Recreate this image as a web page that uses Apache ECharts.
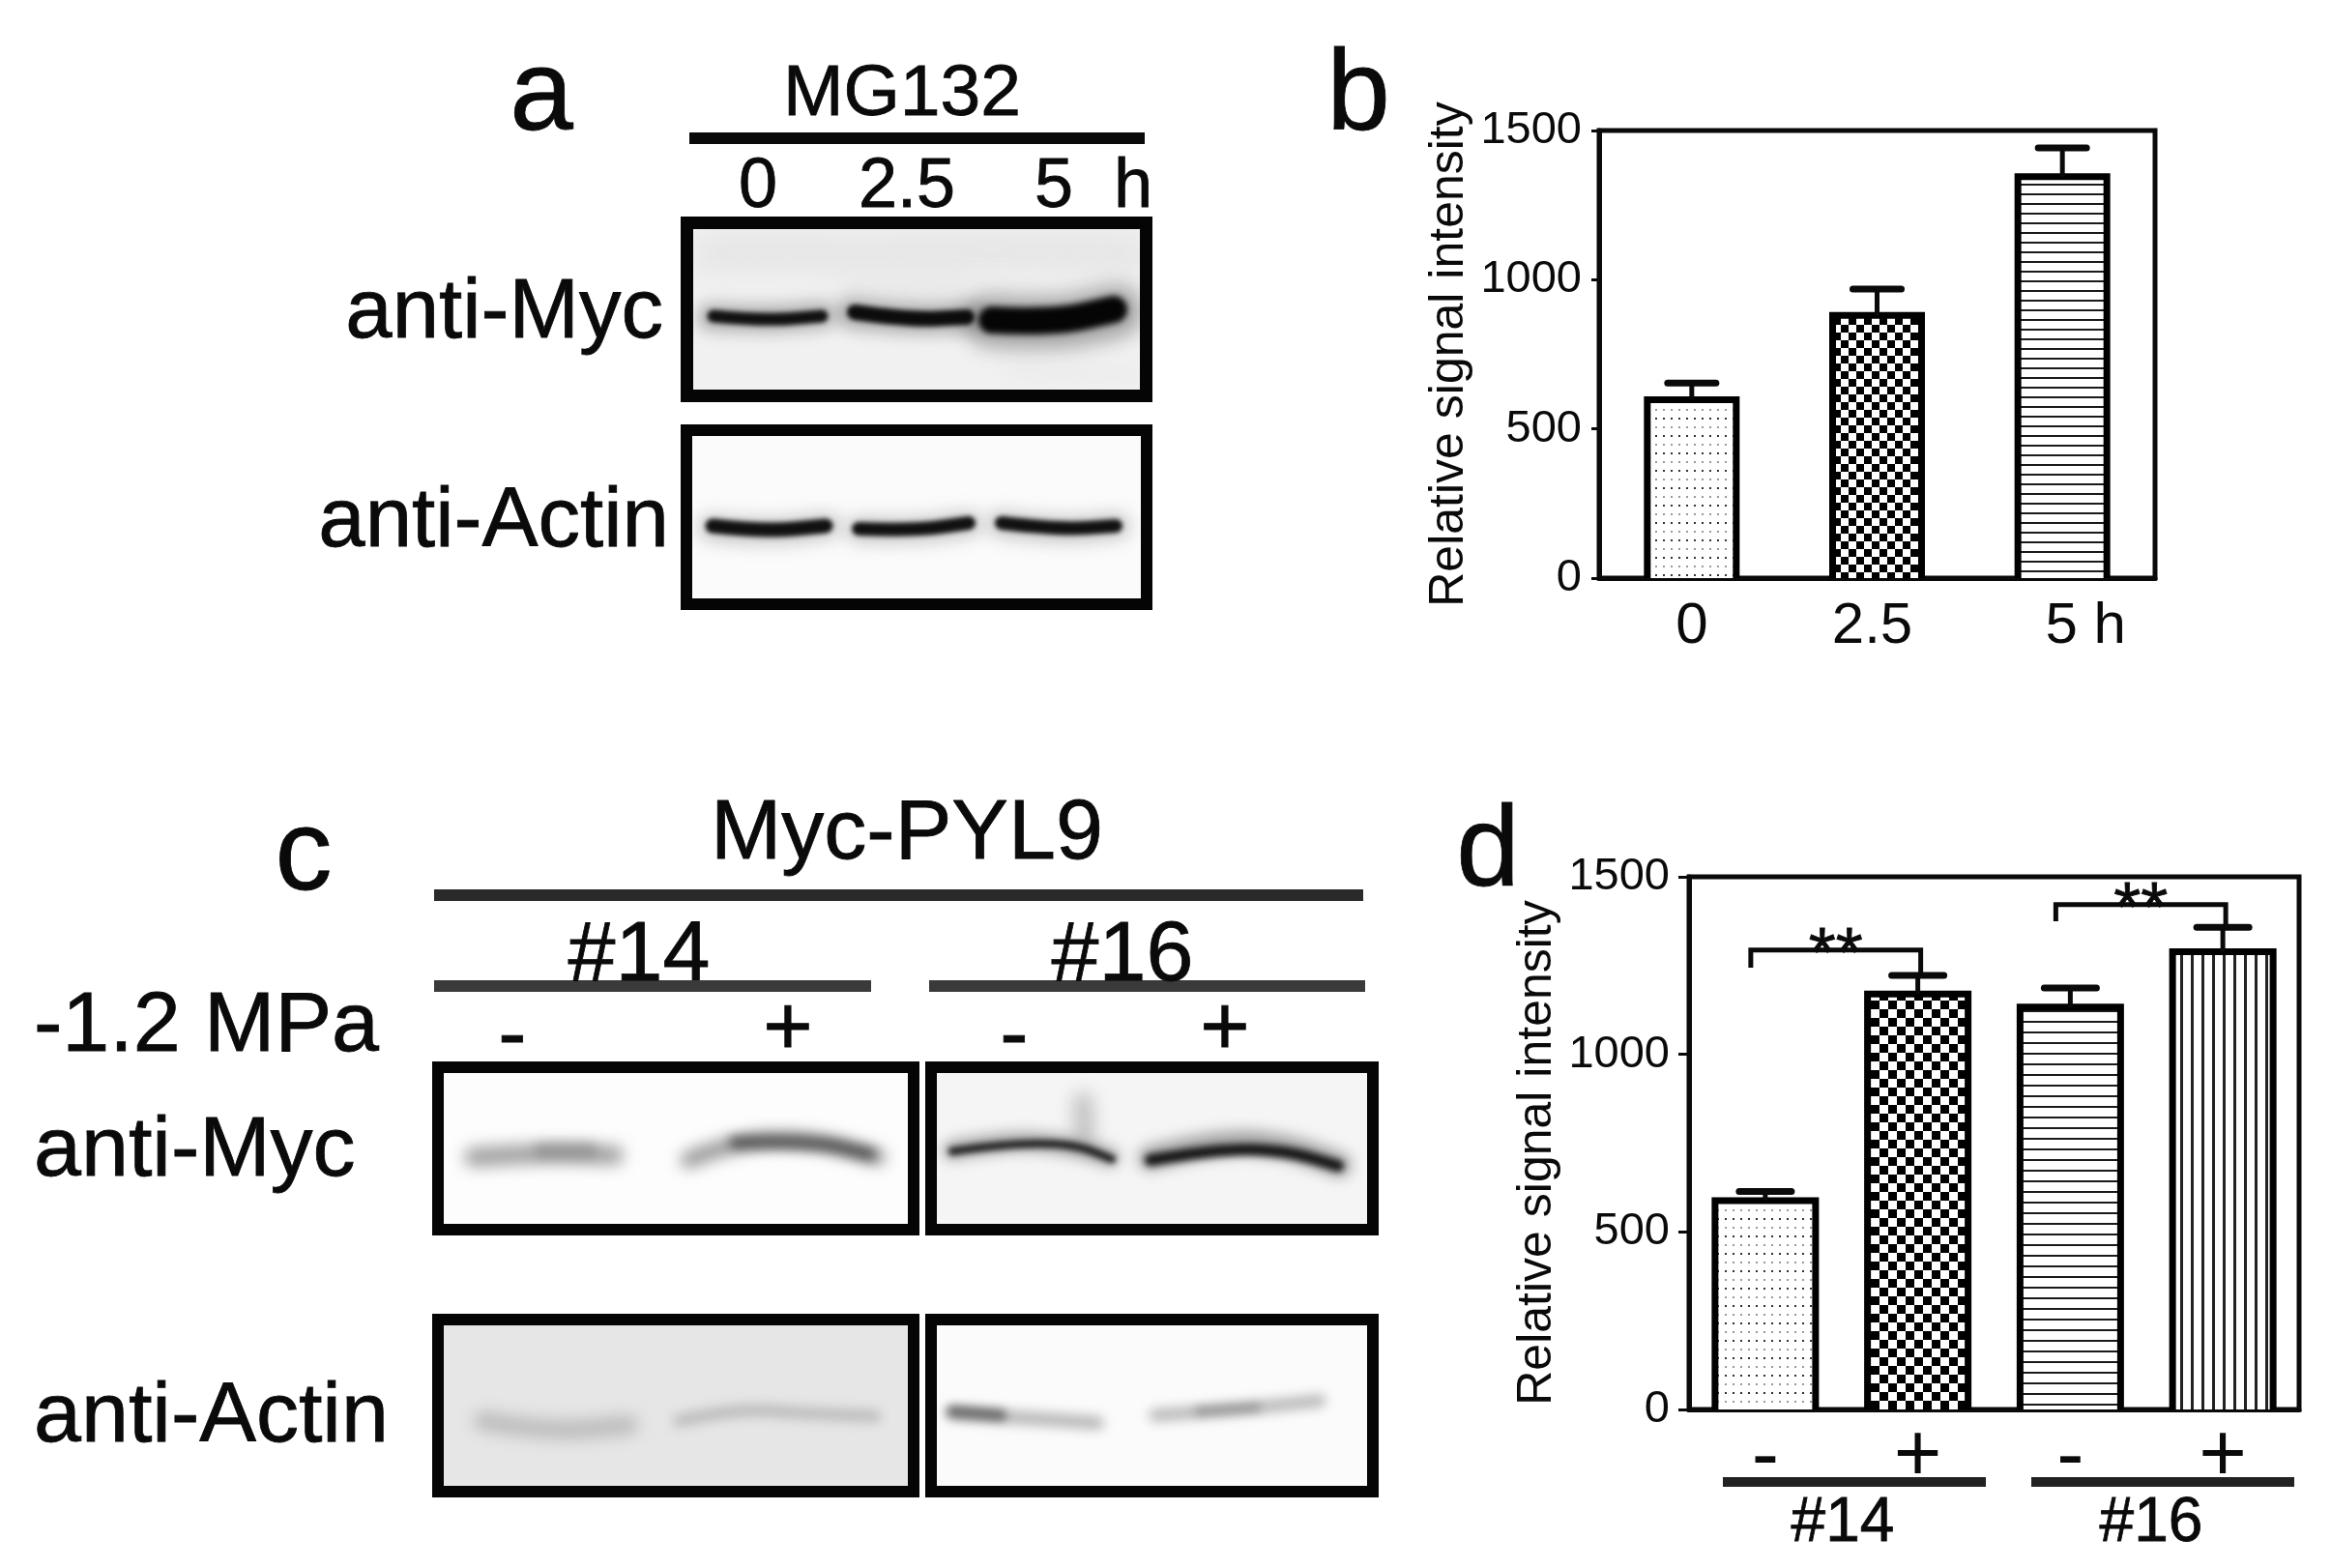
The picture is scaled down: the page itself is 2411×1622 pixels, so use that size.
<!DOCTYPE html>
<html><head><meta charset="utf-8">
<style>html,body{margin:0;padding:0;background:#fff}#c{width:2411px;height:1622px}</style>
<script src="https://cdn.jsdelivr.net/npm/echarts@6/dist/echarts.min.js"></script>
</head><body><div id="c"></div>
<script>
// ---- data ----
const bCategories = ['0', '2.5', '5 h'];
const bValues = [598, 880, 1345];
const bErrorTops = [654, 969, 1442];
const bPatterns = ['dots', 'checker', 'hlines'];

const dCategories = ['-', '+', '-', '+'];
const dValues = [588, 1170, 1133, 1289];
const dErrorTops = [614, 1222, 1187, 1358];
const dPatterns = ['dots', 'checker', 'hlines', 'vlines'];
const dBracketFrom = [0, 2];
const dBracketTo = [1, 3];
const dBracketTop = [1294, 1422];
const dBracketDrop = [1244, 1375];

const yTicks = {min: 0, max: 1500, interval: 500};
const yTitle = 'Relative signal intensity';

const FONT = '"Liberation Sans", Arial, sans-serif';
const INK = '#0a0a0a';

function pattern(kind, s) {
  const c = document.createElement('canvas'), x = () => c.getContext('2d');
  if (kind === 'checker') {
    const n = s.cell; c.width = c.height = 2 * n;
    const g = x(); g.fillStyle = '#fff'; g.fillRect(0, 0, 2*n, 2*n);
    g.fillStyle = '#000'; g.fillRect(0, 0, n, n); g.fillRect(n, n, n, n);
  } else if (kind === 'hlines') {
    c.width = 8; c.height = s.hgap;
    const g = x(); g.fillStyle = '#fff'; g.fillRect(0, 0, 8, s.hgap);
    g.fillStyle = '#1a1a1a'; g.fillRect(0, 0, 8, 2);
  } else if (kind === 'vlines') {
    c.width = s.vgap; c.height = 8;
    const g = x(); g.fillStyle = '#fff'; g.fillRect(0, 0, s.vgap, 8);
    g.fillStyle = '#222'; g.fillRect(0, 0, 3, 8);
  } else {
    c.width = 8; c.height = 18;
    const g = x(); g.fillStyle = '#fff'; g.fillRect(0, 0, 8, 18);
    g.fillStyle = '#333'; g.fillRect(0, 0, 2, 2);
    g.fillStyle = '#999'; g.fillRect(0, 9, 2, 2);
  }
  return {image: c, repeat: 'repeat'};
}

function smoothPath(g, pts, ox, oy) {
  g.beginPath();
  g.moveTo(pts[0][0] - ox, pts[0][1] - oy);
  for (let i = 1; i < pts.length - 1; i++) {
    const mx = (pts[i][0] + pts[i+1][0]) / 2 - ox, my = (pts[i][1] + pts[i+1][1]) / 2 - oy;
    g.quadraticCurveTo(pts[i][0] - ox, pts[i][1] - oy, mx, my);
  }
  const e = pts[pts.length - 1];
  g.lineTo(e[0] - ox, e[1] - oy);
}
function blot(x, y, w, h, border, bg, bands) {
  const c = document.createElement('canvas'); c.width = w; c.height = h;
  const g = c.getContext('2d');
  g.fillStyle = bg; g.fillRect(0, 0, w, h);
  bands.forEach(b => {
    g.save();
    g.filter = 'blur(' + b.blur + 'px)';
    g.strokeStyle = b.ink; g.lineWidth = b.t; g.lineCap = 'round'; g.lineJoin = 'round';
    smoothPath(g, b.p, x, y);
    g.stroke();
    g.restore();
  });
  return [
    {type: 'image', z: 1, style: {image: c, x: x, y: y, width: w, height: h}},
    {type: 'rect', z: 2, shape: {x: x + border/2, y: y + border/2, width: w - border, height: h - border},
     style: {fill: 'none', stroke: '#050505', lineWidth: border}}
  ];
}
const band = (p, t, ink, blur) => ({p, t, ink, blur});

const blots = [].concat(
  blot(704, 224, 488, 192, 13, '#f1f1f1', [
    band([[735,262],[800,258],[880,264],[1000,258],[1170,262]], 40, 'rgba(225,225,225,.7)', 14),
    band([[880,300],[1000,296]], 16, 'rgba(228,228,228,.7)', 10),
    band([[1050,385],[1170,388]], 18, 'rgba(235,235,235,.8)', 8),
    band([[735,328],[790,331],[850,326]], 28, 'rgba(70,70,70,.38)', 8),
    band([[880,324],[940,331],[1003,328]], 32, 'rgba(70,70,70,.38)', 8),
    band([[1025,332],[1090,337],[1155,322]], 54, 'rgba(60,60,60,.42)', 10),
    band([[738,327],[790,332],[850,327]], 13, '#111', 2.5),
    band([[884,323],[940,331],[1000,328]], 16, '#0c0c0c', 2.5),
    band([[1026,331],[1090,334],[1152,320]], 28, '#050505', 3)
  ]),
  blot(704, 439, 488, 192, 12, '#fbfbfb', [
    band([[735,546],[790,552],[856,544]], 26, 'rgba(80,80,80,.3)', 9),
    band([[888,548],[945,550],[1002,542]], 26, 'rgba(80,80,80,.3)', 9),
    band([[1034,542],[1095,550],[1156,544]], 26, 'rgba(80,80,80,.3)', 9),
    band([[737,544],[790,550],[854,544]], 15, '#111', 2.5),
    band([[888,547],[945,549],[1002,541]], 14, '#111', 2.5),
    band([[1036,541],[1095,548],[1154,544]], 14, '#111', 2.5)
  ]),
  blot(447, 1098, 504, 180, 12, '#fdfdfd', [
    band([[490,1197],[560,1192],[635,1195]], 20, 'rgba(130,130,130,.75)', 8),
    band([[560,1190],[610,1190]], 16, 'rgba(110,110,110,.4)', 6),
    band([[712,1200],[760,1180],[840,1178],[908,1197]], 16, 'rgba(100,100,100,.7)', 8),
    band([[760,1182],[840,1180],[900,1194]], 12, 'rgba(40,40,40,.7)', 6)
  ]),
  blot(957, 1098, 469, 180, 12, '#f5f5f5', [
    band([[1120,1140],[1122,1175]], 20, 'rgba(140,140,140,.5)', 9),
    band([[985,1190],[1040,1180],[1100,1183],[1148,1197]], 20, 'rgba(90,90,90,.5)', 7),
    band([[1190,1198],[1260,1180],[1330,1185],[1385,1205]], 26, 'rgba(90,90,90,.5)', 7),
    band([[985,1191],[1040,1183],[1110,1183],[1150,1199]], 8, '#1a1a1a', 3),
    band([[1190,1200],[1260,1188],[1330,1190],[1384,1206]], 12, '#151515', 3.5)
  ]),
  blot(447, 1359, 504, 190, 12, '#e6e6e6', [
    band([[500,1470],[570,1482],[650,1474]], 20, 'rgba(175,175,175,.75)', 8),
    band([[702,1470],[760,1457],[830,1462],[905,1465]], 12, 'rgba(175,175,175,.8)', 6)
  ]),
  blot(957, 1359, 469, 190, 12, '#fbfbfb', [
    band([[985,1462],[1050,1466],[1135,1472]], 14, 'rgba(120,120,120,.5)', 6),
    band([[985,1460],[1035,1464]], 12, 'rgba(70,70,70,.7)', 5),
    band([[1195,1464],[1280,1458],[1365,1449]], 13, 'rgba(140,140,140,.6)', 6),
    band([[1240,1460],[1300,1456]], 9, 'rgba(110,110,110,.5)', 5)
  ])
);

function txt(text, x, y, size, align) {
  return {type: 'text', z: 5, style: {text, x, y, fill: INK, fontSize: size, fontFamily: FONT,
    stroke: INK, lineWidth: 0.8, align: align || 'center', verticalAlign: 'middle'}};
}
function bar(x0, x1, y, t, color) {
  return {type: 'rect', z: 4, shape: {x: x0, y: y - t/2, width: x1 - x0, height: t}, style: {fill: color || '#0a0a0a'}};
}

const annotations = [
  txt('a', 560, 101, 118), txt('b', 1405, 101, 118), txt('c', 314, 887, 118), txt('d', 1539, 883, 118),
  txt('MG132', 933, 98, 75),
  bar(713, 1184, 143, 12),
  txt('0', 784, 194, 72), txt('2.5', 938, 194, 72), txt('5', 1090, 194, 72), txt('h', 1172, 194, 72),
  txt('anti-Myc', 686, 325, 87, 'right'), txt('anti-Actin', 692, 541, 87, 'right'),
  txt('Myc-PYL9', 938, 864, 88),
  bar(449, 1410, 926, 12, '#2a2a2a'),
  txt('#14', 661, 990, 88), txt('#16', 1161, 990, 88),
  bar(449, 901, 1020, 12, '#3a3a3a'), bar(961, 1412, 1020, 12, '#3a3a3a'),
  txt('-1.2 MPa', 35, 1063, 88, 'left'),
  txt('-', 530, 1074, 88), txt('+', 815, 1067, 88), txt('-', 1049, 1074, 88), txt('+', 1267, 1067, 88),
  txt('anti-Myc', 35, 1192, 88, 'left'), txt('anti-Actin', 35, 1467, 88, 'left'),
  bar(1782, 2054, 1533, 10, '#222'), bar(2101, 2373, 1533, 10, '#222'),
  txt('#14', 1906, 1576, 64), txt('#16', 2225, 1576, 64)
].concat(blots);

// Open-bottomed bar outline plus the upward error bar, both placed by the axes.
function errSeries(gridIndex, values, tops, capHalf, halfWidth) {
  return {
    type: 'custom', xAxisIndex: gridIndex, yAxisIndex: gridIndex, z: 3, clip: false, silent: true,
    data: values.map((v, i) => [i, v, tops[i]]),
    renderItem: (p, api) => {
      const a = api.coord([api.value(0), api.value(1)]), b = api.coord([api.value(0), api.value(2)]);
      const base = api.coord([api.value(0), 0])[1];
      return {type: 'group', children: [
        {type: 'polyline', shape: {points: [[a[0]-halfWidth, base], [a[0]-halfWidth, a[1]], [a[0]+halfWidth, a[1]], [a[0]+halfWidth, base]]},
         style: {stroke: '#000', lineWidth: 7, fill: 'none', lineJoin: 'miter'}},
        {type: 'line', shape: {x1: a[0], y1: a[1], x2: b[0], y2: b[1]}, style: {stroke: '#0a0a0a', lineWidth: 5}},
        {type: 'line', shape: {x1: b[0] - capHalf, y1: b[1], x2: b[0] + capHalf, y2: b[1]}, style: {stroke: '#0a0a0a', lineWidth: 7, lineCap: 'round'}}
      ]};
    }
  };
}
function barSeries(gridIndex, values, kinds, width, s) {
  return {
    type: 'bar', xAxisIndex: gridIndex, yAxisIndex: gridIndex, barWidth: width, z: 2, silent: true,
    data: values.map((v, i) => ({value: v, itemStyle: {color: pattern(kinds[i], s)}}))
  };
}
const bracketSeries = {
  type: 'custom', xAxisIndex: 1, yAxisIndex: 1, z: 4, clip: false, silent: true,
  data: dBracketFrom.map((f, i) => [f, dBracketTo[i], dBracketTop[i], dBracketDrop[i]]),
  renderItem: (p, api) => {
    const L = api.coord([api.value(0), api.value(2)]), R = api.coord([api.value(1), api.value(2)]);
    const yd = api.coord([api.value(0), api.value(3)])[1];
    const xl = L[0] - 15, xr = R[0] + 3;
    return {type: 'group', children: [
      {type: 'polyline', shape: {points: [[xl, yd], [xl, L[1]], [xr, L[1]], [xr, yd + 8]]},
       style: {stroke: '#0a0a0a', lineWidth: 5, fill: 'none'}},
      {type: 'text', style: {text: '**', x: (xl + xr) / 2, y: L[1] + 7, fontSize: 72, fontFamily: FONT, fill: INK,
        stroke: INK, lineWidth: 0.8, align: 'center', verticalAlign: 'middle'}}
    ]};
  }
};

function xAxis(gridIndex, cats, opts) {
  return {
    type: 'category', gridIndex, data: cats, boundaryGap: true,
    axisLine: {lineStyle: {color: '#0a0a0a', width: 5}, onZero: false},
    axisTick: {alignWithLabel: true, length: opts.tick, lineStyle: {color: '#0a0a0a', width: 3}},
    axisLabel: {interval: 0, color: INK, fontFamily: FONT, fontSize: opts.size, margin: opts.margin}
  };
}
function yAxis(gridIndex, opts) {
  return {
    type: 'value', gridIndex, min: yTicks.min, max: yTicks.max, interval: yTicks.interval,
    splitLine: {show: false},
    axisLine: {show: true, lineStyle: {color: '#0a0a0a', width: 5}},
    axisTick: {show: true, length: opts.tick, lineStyle: {color: '#0a0a0a', width: 3}},
    axisLabel: {color: INK, fontFamily: FONT, fontSize: 47, margin: opts.margin, formatter: v => String(v)},
    name: yTitle, nameLocation: 'middle', nameGap: opts.nameGap, nameMoveOverlap: false,
    nameTextStyle: {color: INK, fontFamily: FONT, fontSize: 50, padding: opts.namePad}
  };
}

const bAxisCats = bCategories.map(c => c === '5 h' ? {value: c, textStyle: {padding: [0, 0, 0, 48]}}
  : c === '2.5' ? {value: c, textStyle: {padding: [0, 10, 0, 0]}} : c);

const chart = echarts.init(document.getElementById('c'), null, {renderer: 'canvas'});
chart.setOption({
  animation: false,
  backgroundColor: '#fff',
  grid: [
    {left: 1654, top: 135, width: 575, height: 463, show: true, borderColor: '#0a0a0a', borderWidth: 5, backgroundColor: 'transparent'},
    {left: 1747, top: 907, width: 631, height: 551, show: true, borderColor: '#0a0a0a', borderWidth: 5, backgroundColor: 'transparent'}
  ],
  xAxis: [
    xAxis(0, bAxisCats, {tick: 14, size: 60, margin: 20}),
    xAxis(1, dCategories, {tick: 19, size: 85, margin: 8})
  ],
  yAxis: [
    yAxis(0, {tick: 8, margin: 18, nameGap: 126, namePad: [0, 0, 4, 0]}),
    yAxis(1, {tick: 11, margin: 20, nameGap: 132, namePad: [0, 20, 0, 0]})
  ],
  series: [
    barSeries(0, bValues, bPatterns, 92, {cell: 8, hgap: 10, vgap: 11}),
    errSeries(0, bValues, bErrorTops, 25, 46),
    barSeries(1, dValues, dPatterns, 103, {cell: 9, hgap: 11, vgap: 11}),
    errSeries(1, dValues, dErrorTops, 27, 52),
    bracketSeries
  ],
  graphic: annotations
});
</script></body></html>
